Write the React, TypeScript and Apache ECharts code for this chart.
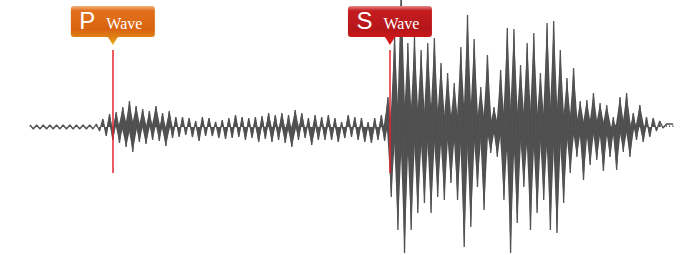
import React, { useEffect, useRef } from "react";
import * as echarts from "echarts";

// Amplitude of each upward swing (in axis units), left to right
const upPeaks = [
  2, 2, 2, 2, 2, 2, 2, 2, 2, 2,
  3, 8, 13, 15, 20, 26, 21, 18, 16, 21,
  14, 16, 10, 10, 9, 6, 10, 9, 5, 7,
  9, 12, 10, 9, 10, 11, 14, 12, 14, 12,
  17, 14, 9, 12, 10, 12, 9, 5, 12, 10,
  9, 5, 9, 12, 30, 92, 140, 84, 90, 77,
  84, 89, 64, 54, 44, 80, 112, 88, 40, 72,
  20, 57, 99, 98, 62, 84, 94, 54, 104, 106,
  77, 49, 59, 26, 27, 34, 24, 22, 10, 30,
  34, 14, 22, 10, 9, 6, 3,
];
// Amplitude of each downward swing (in axis units), left to right
const downPeaks = [
  2, 2, 2, 2, 2, 2, 2, 2, 2, 2,
  4, 9, 13, 16, 20, 25, 15, 17, 13, 14,
  19, 11, 10, 8, 10, 14, 9, 9, 11, 12,
  11, 10, 13, 11, 15, 12, 15, 13, 16, 20,
  13, 11, 18, 13, 13, 13, 15, 11, 10, 13,
  15, 16, 13, 14, 70, 103, 126, 103, 86, 76,
  86, 70, 73, 56, 73, 120, 100, 60, 83, 26,
  30, 73, 126, 96, 60, 103, 86, 73, 103, 106,
  76, 46, 30, 53, 38, 33, 44, 30, 43, 25,
  30, 13, 15, 10, 4, 1,
];
const tailValues = [3, 3];

// Event positions (sample index) and marker extents (axis units)
const pArrival = 25;
const sArrival = 108.6;
const markerTop = 77;
const markerBottom = -46;
const calloutTip = 82;

function buildWave(): number[][] {
  const vals: number[] = [];
  for (let k = 0; k < upPeaks.length; k++) {
    vals.push(upPeaks[k]);
    if (k < downPeaks.length) vals.push(-downPeaks[k]);
  }
  tailValues.forEach((v) => vals.push(v));
  return vals.map((v, i) => [i, v]);
}

const calloutPath =
  "path://M3,0 L81,0 Q84,0 84,3 L84,28 Q84,31 81,31 L47,31 L42,39 L37,31 L3,31 Q0,31 0,28 L0,3 Q0,0 3,0 Z";

const WAVE_COLOR = "#4f4f4f";

export default function App() {
  const ref = useRef<HTMLDivElement>(null);

  useEffect(() => {
    document.body.style.margin = "0";
    if (!ref.current) return;
    const chart = echarts.init(ref.current, undefined, { renderer: "svg" });
    const wave = buildWave();
    const lastIndex = wave.length - 1;

    const pGrad = new echarts.graphic.LinearGradient(0, 0, 0, 1, [
      { offset: 0, color: "#f3b27c" },
      { offset: 0.12, color: "#e2701c" },
      { offset: 0.6, color: "#d9630f" },
      { offset: 0.85, color: "#e08a18" },
      { offset: 1, color: "#ecb51e" },
    ]);
    const sGrad = new echarts.graphic.LinearGradient(0, 0, 0, 1, [
      { offset: 0, color: "#e58a8a" },
      { offset: 0.12, color: "#c41d20" },
      { offset: 0.6, color: "#b5161a" },
      { offset: 1, color: "#e3191b" },
    ]);

    const richText = {
      p: {
        color: "#ffffff",
        fontSize: 24,
        fontFamily: "Liberation Sans, Arial, sans-serif",
        verticalAlign: "bottom",
      },
      w: {
        color: "#ffffff",
        fontSize: 16,
        fontFamily: "Liberation Serif, Times New Roman, serif",
        padding: [0, 0, 1, 11],
        verticalAlign: "bottom",
      },
    };

    chart.setOption({
      animation: false,
      grid: { left: 30, right: 17, top: 0, bottom: 0 },
      xAxis: { type: "value", min: 0, max: lastIndex, show: false },
      yAxis: { type: "value", min: -128, max: 127, show: false },
      series: [
        {
          type: "custom",
          data: wave.map((d) => d.slice()),
          encode: { x: 0, y: 1 },
          renderItem: (params: any, api: any) => {
            const i = api.value(0);
            const v = api.value(1);
            const base = api.coord([i, 0]);
            const tip = api.coord([i, v]);
            const a = Math.abs(tip[1] - base[1]);
            const half = Math.min(4.4, Math.max(0.4, a * 0.22));
            const core = Math.max(0, (a - 30) * 0.18);
            const children: any[] = [
              {
                type: "polygon",
                shape: {
                  points: [
                    [base[0] - half, base[1]],
                    [tip[0], tip[1]],
                    [base[0] + half, base[1]],
                  ],
                },
                style: { fill: WAVE_COLOR },
              },
            ];
            if (core > 0) {
              children.push({
                type: "rect",
                shape: { x: base[0] - 3.5, y: base[1] - core, width: 7, height: core * 2 },
                style: { fill: WAVE_COLOR },
              });
            }
            return { type: "group", children };
          },
        },
        {
          type: "line",
          data: wave,
          symbol: "none",
          lineStyle: { color: "#525252", width: 1.3 },
          markLine: {
            symbol: ["none", "none"],
            label: { show: false },
            lineStyle: { color: "#e3262b", width: 1.5, type: "solid" },
            data: [
              [{ coord: [pArrival, markerTop] }, { coord: [pArrival, markerBottom] }],
              [{ coord: [sArrival, markerTop] }, { coord: [sArrival, markerBottom] }],
            ],
          },
          markPoint: {
            symbol: calloutPath,
            symbolSize: [84, 39],
            symbolOffset: [0, "-50%"],
            label: {
              show: true,
              position: "inside",
              offset: [-2, -5],
              rich: richText,
            },
            data: [
              {
                coord: [pArrival, calloutTip],
                itemStyle: { color: pGrad },
                label: { formatter: "{p|P}{w|Wave}" },
              },
              {
                coord: [sArrival, calloutTip],
                itemStyle: { color: sGrad },
                label: { formatter: "{p|S}{w|Wave}" },
              },
            ],
          },
        },
      ],
    });

    return () => chart.dispose();
  }, []);

  return <div ref={ref} style={{ width: 690, height: 255 }} />;
}
